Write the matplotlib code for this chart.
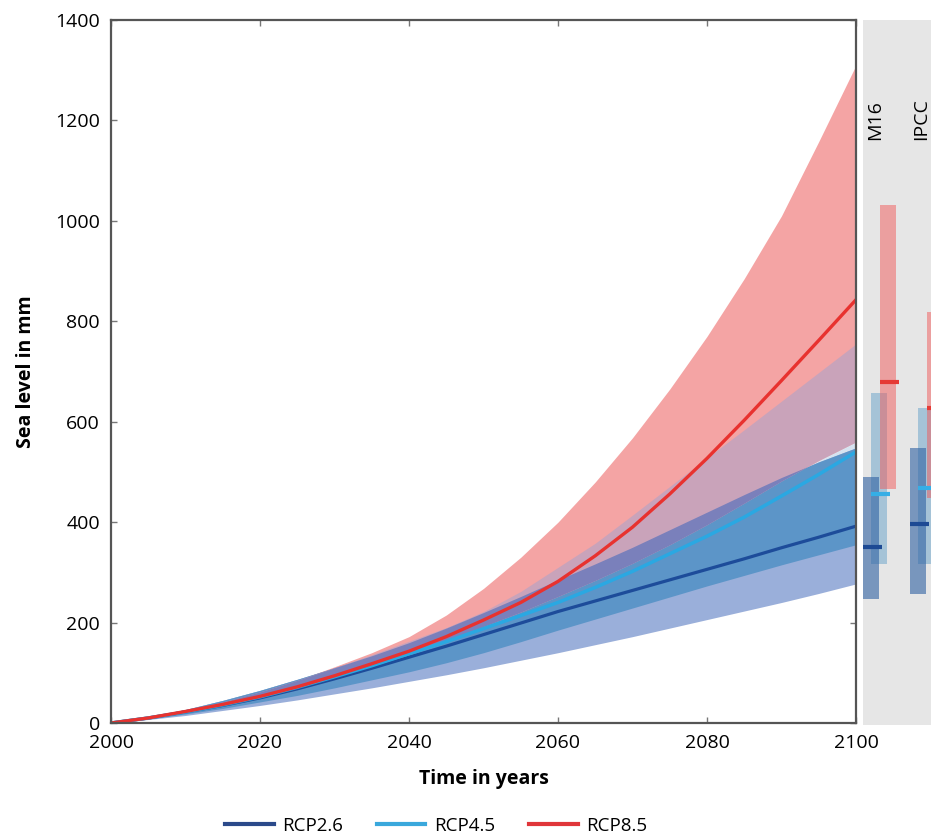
import matplotlib
matplotlib.use("Agg")
import matplotlib.pyplot as plt
from matplotlib.lines import Line2D
import numpy as np

plt.rcParams['font.family'] = ['Open Sans', 'DejaVu Sans']

# ---- data (mm, read every 5 years) ----
years = [2000, 2005, 2010, 2015, 2020, 2025, 2030, 2035, 2040, 2045, 2050,
         2055, 2060, 2065, 2070, 2075, 2080, 2085, 2090, 2095, 2100]
rcp26_med = [0, 10, 22, 35, 50, 68, 88, 109, 131, 153, 176,
             199, 222, 243, 264, 285, 306, 327, 349, 370, 392]
rcp26_lo = [0, 7, 15, 25, 35, 46, 58, 70, 83, 96, 110,
            125, 140, 156, 172, 189, 206, 223, 240, 258, 277]
rcp26_hi = [0, 12, 27, 45, 65, 87, 110, 134, 160, 189, 220,
            252, 285, 317, 350, 385, 420, 455, 489, 520, 548]
rcp45_med = [0, 10, 22, 36, 52, 71, 92, 114, 138, 162, 188,
             214, 240, 270, 302, 337, 372, 410, 452, 495, 540]
rcp45_lo = [0, 8, 18, 29, 42, 55, 70, 86, 102, 120, 140,
            162, 185, 207, 229, 251, 273, 294, 315, 335, 355]
rcp45_hi = [0, 12, 27, 45, 65, 87, 110, 136, 163, 190, 222,
            262, 310, 358, 414, 471, 528, 584, 641, 698, 755]
rcp85_med = [0, 10, 23, 37, 53, 72, 94, 118, 143, 172, 205,
             240, 282, 333, 390, 456, 527, 603, 682, 762, 843]
rcp85_lo = [0, 10, 23, 37, 53, 72, 93, 116, 140, 165, 192,
            221, 252, 284, 318, 355, 395, 438, 482, 523, 560]
rcp85_hi = [0, 11, 25, 42, 62, 85, 112, 140, 172, 215, 268,
            330, 400, 480, 568, 665, 770, 885, 1010, 1158, 1310]

scenarios = ['RCP2.6', 'RCP4.5', 'RCP8.5']
# side panel: median, low, high per source (RCP2.6, RCP4.5, RCP8.5)
m16_med = [354, 459, 682]
m16_lo = [250, 320, 469]
m16_hi = [493, 660, 1032]
ipcc_med = [400, 470, 630]
ipcc_lo = [260, 320, 450]
ipcc_hi = [550, 630, 820]
panel_labels = ['M16', 'IPCC']

yticks = [0, 200, 400, 600, 800, 1000, 1200, 1400]
xticks = [2000, 2020, 2040, 2060, 2080, 2100]

# ---- styles ----
line_cols = ['#1d4c9a', '#2aa8e2', '#e8322f']
col_26_only = '#9aafda'
col_45_only = '#d6e3f0'
col_85_only = '#f4a4a4'
col_26_45 = '#5c95c8'
col_85_45 = '#c9a3ba'
col_all = '#7a80bb'
leg_cols = ['#2b4a8a', '#3aa8dc', '#e0363a']

W, H = 931, 836
fig = plt.figure(figsize=(W / 100, H / 100), dpi=100)
ax = fig.add_axes([111 / W, (H - 723) / H, (856 - 111) / W, (723 - 20) / H])

yr = np.array(years, dtype=float)
l1, h1 = np.array(rcp26_lo, float), np.array(rcp26_hi, float)
l2, h2 = np.array(rcp45_lo, float), np.array(rcp45_hi, float)
l3, h3 = np.array(rcp85_lo, float), np.array(rcp85_hi, float)


def region(lo, hi, color, z):
    ax.fill_between(yr, lo, hi, where=hi >= lo, interpolate=True,
                    color=color, lw=0, zorder=z)


region(l2, h2, col_45_only, 1)
region(l1, h1, col_26_only, 2)
region(l3, h3, col_85_only, 3)
region(np.maximum(l1, l2), np.minimum(h1, h2), col_26_45, 4)
region(np.maximum(l3, l2), np.minimum(h3, h2), col_85_45, 5)
region(np.maximum(np.maximum(l1, l2), l3), np.minimum(np.minimum(h1, h2), h3), col_all, 6)

ax.plot(years, rcp26_med, color=line_cols[0], lw=2.3, zorder=8)
ax.plot(years, rcp45_med, color=line_cols[1], lw=2.5, zorder=8)
ax.plot(years, rcp85_med, color=line_cols[2], lw=2.4, zorder=9)

ax.set_xlim(2000, 2100)
ax.set_ylim(0, 1400)
ax.set_xticks(xticks)
ax.set_yticks(yticks)
ax.tick_params(direction='in', length=4, width=1, color='#777777', labelsize=14,
               top=True, right=True, pad=8)
for s in ax.spines.values():
    s.set_color('#555555')
    s.set_linewidth(1.6)
    s.set_zorder(10)
ax.set_xlabel('Time in years', fontsize=14, fontweight='bold', labelpad=12)
ax.set_ylabel('Sea level in mm', fontsize=14, fontweight='bold', labelpad=14)

# ---- side panel ----
pax = fig.add_axes([863 / W, (H - 725) / H, 100 / W, (725 - 20) / H])
pax.set_facecolor('#e6e6e6')
pax.set_xlim(0, 100)
pax.set_ylim(0, 1400)
pax.set_xticks([])
pax.set_yticks([])
for s in pax.spines.values():
    s.set_visible(False)

bar_cols = ['#2f61a3', '#448fc1', '#f05a5a']
bar_alpha = [0.6, 0.4, 0.5]
med_cols = ['#1d4a94', '#35aee6', '#e53a35']
group_x = [0, 47]
bar_off = [0, 8, 17]
bar_w = 16
for gx, med, lo, hi, lab in zip(group_x, [m16_med, ipcc_med], [m16_lo, ipcc_lo],
                                [m16_hi, ipcc_hi], panel_labels):
    for i in [1, 0, 2]:
        x0 = gx + bar_off[i]
        pax.bar(x0, hi[i] - lo[i], bottom=lo[i], width=bar_w, align='edge',
                color=bar_cols[i], alpha=bar_alpha[i], lw=0, zorder=2)
    for i in range(3):
        x0 = gx + bar_off[i]
        pax.plot([x0, x0 + bar_w + 3], [med[i], med[i]], color=med_cols[i],
                 lw=3, solid_capstyle='butt', zorder=4)
    pax.text(gx + 12 if lab == 'M16' else gx + 11.5, 1162, lab, rotation=90,
             ha='center', va='bottom', fontsize=14, color='black')

# ---- legend ----
handles = [Line2D([0], [0], color=c, lw=3) for c in leg_cols]
fig.legend(handles, scenarios, loc='center', bbox_to_anchor=(436 / W, 10 / H),
           ncol=3, frameon=False, fontsize=13.5, handlelength=2.6, columnspacing=1.8,
           handletextpad=0.45)

fig.savefig('out.png', dpi=100)
